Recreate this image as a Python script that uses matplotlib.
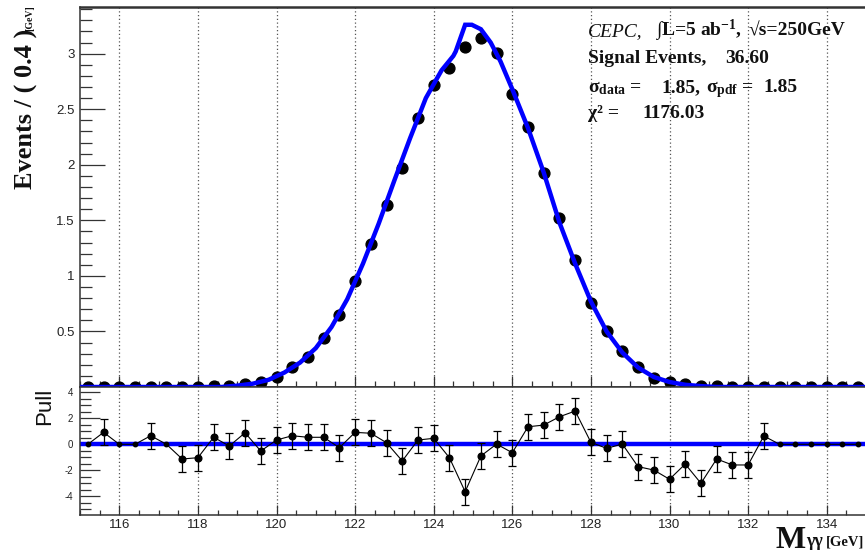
import numpy as np
import matplotlib
matplotlib.use("Agg")
import matplotlib.pyplot as plt
from matplotlib.ticker import MultipleLocator, FixedLocator, FuncFormatter

plt.rcParams["mathtext.fontset"] = "custom"
plt.rcParams["mathtext.rm"] = "Liberation Serif"
plt.rcParams["mathtext.it"] = "Liberation Serif:italic"
plt.rcParams["mathtext.bf"] = "Liberation Serif:bold"

# Diphoton mass binning (GeV)
mass_lo, mass_hi, bin_width = 115.0, 135.0, 0.4
bin_centers = np.arange(mass_lo + bin_width / 2, mass_hi, bin_width)

# Signal events per 0.4 GeV bin
events = [
    0.0, 0.002, 0.0, 0.0, 0.003, 0.0, 0.002, 0.003, 0.008, 0.012,
    0.025, 0.045, 0.09, 0.18, 0.27, 0.44, 0.65, 0.95, 1.29, 1.64,
    1.97, 2.42, 2.72, 2.87, 3.06, 3.14, 3.01, 2.64, 2.34, 1.93,
    1.52, 1.14, 0.76, 0.50, 0.32, 0.18, 0.085, 0.045, 0.025, 0.012,
    0.008, 0.004, 0.003, 0.002, 0.0, 0.0, 0.0, 0.0, 0.0, 0.0,
]

# Pull of each bin with respect to the fitted pdf
pull = [
    0.0, 0.92, 0.0, 0.0, 0.66, 0.0, -1.13, -1.03, 0.54, -0.13,
    0.89, -0.52, 0.33, 0.66, 0.54, 0.54, -0.26, 0.92, 0.85, 0.12,
    -1.28, 0.33, 0.46, -1.03, -3.65, -0.90, 0.02, -0.65, 1.35, 1.48,
    2.12, 2.56, 0.15, -0.31, 0.02, -1.72, -1.98, -2.69, -1.52, -3.00,
    -1.13, -1.59, -1.59, 0.64, 0.0, 0.0, 0.0, 0.0, 0.0, 0.0,
]
pull_err = [
    0, 1, 0, 0, 1, 0, 1, 1, 1, 1,
    1, 1, 1, 1, 1, 1, 1, 1, 1, 1,
    1, 1, 1, 1, 1, 1, 1, 1, 1, 1,
    1, 1, 1, 1, 1, 1, 1, 1, 1, 1,
    1, 1, 1, 1, 0, 0, 0, 0, 0, 0,
]

# Fitted signal pdf, sampled along the mass axis
fit_mass = [
    115.0, 118.6, 119.0, 119.4, 119.8, 120.2, 120.6, 121.0, 121.4, 121.8,
    122.2, 122.6, 123.0, 123.4, 123.8, 124.2, 124.5, 124.56, 124.8, 124.97,
    125.2, 125.45, 125.7, 126.0, 126.4, 126.8, 127.2, 127.6, 128.0, 128.4,
    128.8, 129.2, 129.6, 130.0, 130.4, 130.8, 131.2, 135.0,
]
fit_events = [
    0.0, 0.0, 0.012, 0.03, 0.065, 0.13, 0.22, 0.35, 0.54, 0.79,
    1.11, 1.47, 1.86, 2.24, 2.60, 2.85, 2.98, 3.02, 3.26, 3.26,
    3.22, 3.10, 2.93, 2.68, 2.33, 1.93, 1.48, 1.11, 0.77, 0.50,
    0.31, 0.175, 0.09, 0.045, 0.02, 0.008, 0.0, 0.0,
]

mass_ticks = [116, 118, 120, 122, 124, 126, 128, 130, 132, 134]

events = np.array(events)
pull = np.array(pull)
pull_err = np.array(pull_err, dtype=float)

W, H = 865, 554
fig = plt.figure(figsize=(W / 100, H / 100), dpi=100)


def fx(px):
    return px / W


def fy(py):
    return 1 - py / H


SANS = "Liberation Sans"
SERIF = ["Liberation Serif", "DejaVu Serif"]
BLUE = "#0000ff"
AXC = "#333333"
INK = "#111111"

ax = fig.add_axes([fx(80), fy(387), (866 - 80) / W, (387 - 7) / H])
axp = fig.add_axes([fx(80), fy(515), (866 - 80) / W, (515 - 387) / H])

fmt = FuncFormatter(lambda v, p: "" if abs(v) < 1e-9 else f"{v:g}")

# ---- upper panel: mass spectrum and fit ----
ax.set_xlim(mass_lo, mass_hi)
ax.set_ylim(0, 3.42)
for m in mass_ticks:
    ax.axvline(m, color="#555555", lw=0.9, ls=(0, (1, 2)), zorder=0)
ax.plot(bin_centers, events, "o", ms=7.8, color="black", zorder=3)
ax.plot(fit_mass, fit_events, color=BLUE, lw=3.2, zorder=4,
        solid_joinstyle="miter")

ax.xaxis.set_major_locator(FixedLocator(mass_ticks))
ax.xaxis.set_minor_locator(MultipleLocator(0.5))
ax.yaxis.set_major_locator(MultipleLocator(0.5))
ax.yaxis.set_minor_locator(MultipleLocator(0.1))
ax.yaxis.set_major_formatter(fmt)
ax.tick_params(which="both", direction="in", color=AXC, width=0.9,
               labelcolor="#222222")
ax.tick_params(axis="y", which="major", length=18, labelsize=9.5, pad=4)
ax.tick_params(axis="y", which="minor", length=8.6)
ax.tick_params(axis="x", which="major", length=8, labelbottom=False)
ax.tick_params(axis="x", which="minor", length=4.5)
for lab in ax.get_yticklabels():
    lab.set_fontfamily(SANS)
for s in ax.spines.values():
    s.set_color(AXC)
    s.set_linewidth(1.1)
ax.spines["top"].set_linewidth(1.8)

# ---- lower panel: pulls ----
axp.set_xlim(mass_lo, mass_hi)
axp.set_ylim(-5.44, 4.41)
for m in mass_ticks:
    axp.axvline(m, color="#555555", lw=0.9, ls=(0, (1, 2)), zorder=0)
axp.axhline(0, color=BLUE, lw=3.2, zorder=2)
axp.plot(bin_centers, pull, color="black", lw=0.8, zorder=3)
filled = pull_err > 0
axp.errorbar(bin_centers[filled], pull[filled], yerr=pull_err[filled], fmt="o",
             ms=4.8, color="black", ecolor="black", elinewidth=0.9,
             capsize=2.6, capthick=0.9, zorder=4)
axp.plot(bin_centers[~filled], pull[~filled], "o", ms=3.2, color="black",
         zorder=4)

axp.xaxis.set_major_locator(FixedLocator(mass_ticks))
axp.xaxis.set_minor_locator(MultipleLocator(0.5))
axp.yaxis.set_major_locator(FixedLocator([-4, -2, 0, 2, 4]))
axp.yaxis.set_minor_locator(MultipleLocator(0.5))
axp.yaxis.set_major_formatter(FuncFormatter(lambda v, p: f"{v:g}"))
axp.tick_params(which="both", direction="in", color=AXC, width=0.9,
                labelcolor="#222222")
axp.tick_params(axis="y", which="major", length=14.4, labelsize=7, pad=5)
axp.tick_params(axis="y", which="minor", length=7.7)
axp.tick_params(axis="x", which="major", length=7, labelsize=9.5, pad=3)
axp.tick_params(axis="x", which="minor", length=3.6)
for lab in axp.get_xticklabels() + axp.get_yticklabels():
    lab.set_fontfamily(SANS)
for s in axp.spines.values():
    s.set_color(AXC)
    s.set_linewidth(1.1)

# ---- axis titles ----
fig.text(fx(33), fy(29), "Events / ( 0.4 )", rotation=90, rotation_mode="anchor",
         ha="right", va="baseline", fontsize=19, fontweight="bold",
         family=SERIF, color=INK)
fig.text(fx(32), fy(5), "[GeV]", rotation=90, rotation_mode="anchor",
         ha="right", va="baseline", fontsize=7, fontweight="bold",
         family=SERIF, color=INK)
fig.text(fx(50), fy(425), "Pull", rotation=90, rotation_mode="anchor",
         ha="left", va="baseline", fontsize=16, family=SANS, color=INK)
fig.text(fx(806), fy(548), "M", ha="right", va="baseline", fontsize=23,
         fontweight="bold", family=SERIF, color=INK)
fig.text(fx(806), fy(546), "γγ", ha="left", va="baseline", fontsize=13,
         fontweight="bold", family=SERIF, color=INK)
fig.text(fx(864), fy(546), "[GeV]", ha="right", va="baseline", fontsize=10.5,
         fontweight="bold", family=SERIF, color=INK)

# ---- fit summary ----
FS = 14
tkw = dict(va="baseline", fontsize=FS, fontweight="bold", family=SERIF,
           color=INK)
fig.text(fx(588), fy(36), "CEPC,", ha="left", va="baseline", fontsize=FS,
         style="italic", family=SERIF, color=INK)
fig.text(fx(655), fy(36), r"∫L=5 ab$^{\mathbf{-1}}$,", ha="left", **tkw)
fig.text(fx(845), fy(36), "√s=250GeV", ha="right", **tkw)
fig.text(fx(588), fy(63), "Signal Events,", ha="left", **tkw)
fig.text(fx(725), fy(63), "36.60", ha="left", **tkw)
fig.text(fx(588), fy(92), r"σ$_{\mathbf{data}}$ =", ha="left", **tkw)
fig.text(fx(661), fy(92), "1.85,", ha="left", **tkw)
fig.text(fx(706), fy(92), r"σ$_{\mathbf{pdf}}$ =", ha="left", **tkw)
fig.text(fx(798), fy(92), "1.85", ha="right", **tkw)
fig.text(fx(588), fy(118), "χ² =", ha="left", **tkw)
fig.text(fx(642), fy(118), "1176.03", ha="left", **tkw)

fig.savefig("out.png", dpi=100)
